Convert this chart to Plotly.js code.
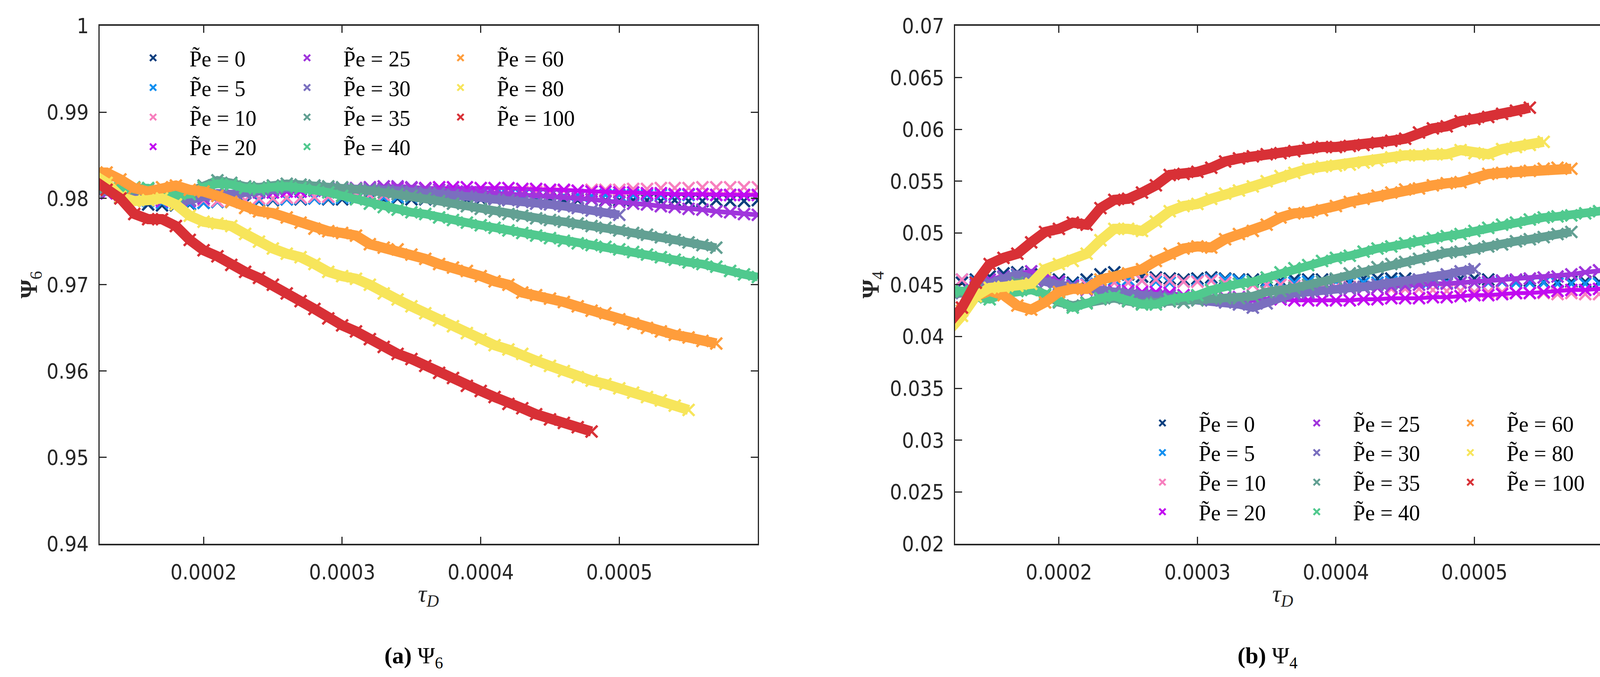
<!DOCTYPE html>
<html>
<head>
<meta charset="utf-8">
<script src="https://cdn.plot.ly/plotly-3.0.1.min.js"></script>
<style>
  html, body { margin: 0; padding: 0; background: #fff; overflow: hidden; }
  #chart { width: 4175px; height: 1733px; }
</style>
</head>
<body>
<div id="chart"></div>
<script>
// time axis shared by all runs (series stop at their own length)
const tau = [
  0.00012, 0.00013, 0.00014, 0.00015, 0.00016, 0.00017, 0.00018, 0.00019, 0.00020, 0.00021,
  0.00022, 0.00023, 0.00024, 0.00025, 0.00026, 0.00027, 0.00028, 0.00029, 0.00030, 0.00031,
  0.00032, 0.00033, 0.00034, 0.00035, 0.00036, 0.00037, 0.00038, 0.00039, 0.00040, 0.00041,
  0.00042, 0.00043, 0.00044, 0.00045, 0.00046, 0.00047, 0.00048, 0.00049, 0.00050, 0.00051,
  0.00052, 0.00053, 0.00054, 0.00055, 0.00056, 0.00057, 0.00058, 0.00059, 0.00060
];

const peValues = ['0', '5', '10', '20', '25', '30', '35', '40', '60', '80', '100'];

const tauTickVals = [0.0002, 0.0003, 0.0004, 0.0005];
const tauTickText = ['0.0002', '0.0003', '0.0004', '0.0005'];
const psi6TickVals = [0.94, 0.95, 0.96, 0.97, 0.98, 0.99, 1];
const psi6TickText = ['0.94', '0.95', '0.96', '0.97', '0.98', '0.99', '1'];
const psi4TickVals = [0.02, 0.025, 0.03, 0.035, 0.04, 0.045, 0.05, 0.055, 0.06, 0.065, 0.07];
const psi4TickText = ['0.02', '0.025', '0.03', '0.035', '0.04', '0.045', '0.05', '0.055', '0.06', '0.065', '0.07'];

// (a) Psi_6
const psi6Pe0 = [
  0.9810, 0.9806, 0.9801, 0.9797, 0.9793, 0.9792, 0.9792, 0.9793, 0.9795, 0.9796,
  0.9796, 0.9795, 0.9797, 0.9798, 0.9799, 0.9799, 0.9800, 0.9799, 0.9799, 0.9800,
  0.9799, 0.9799, 0.9800, 0.9799, 0.9799, 0.9800, 0.9799, 0.9799, 0.9799, 0.9800,
  0.9799, 0.9799, 0.9798, 0.9799, 0.9798, 0.9798, 0.9799, 0.9798, 0.9798, 0.9798,
  0.9798, 0.9797, 0.9798, 0.9797, 0.9797, 0.9798, 0.9797, 0.9797, 0.9798
];
const psi6Pe5 = [
  0.9812, 0.9808, 0.9804, 0.9800, 0.9797, 0.9795, 0.9794, 0.9794, 0.9795, 0.9796,
  0.9797, 0.9797, 0.9798, 0.9799, 0.9799, 0.9800, 0.9800, 0.9800, 0.9801, 0.9801,
  0.9801, 0.9801, 0.9802, 0.9802, 0.9802, 0.9802, 0.9802, 0.9802, 0.9803, 0.9803,
  0.9803, 0.9803, 0.9803, 0.9803, 0.9803, 0.9804, 0.9803, 0.9804, 0.9804, 0.9804,
  0.9804, 0.9804, 0.9804, 0.9804, 0.9805, 0.9804, 0.9804, 0.9804, 0.9804
];
const psi6Pe10 = [
  0.9814, 0.9812, 0.9808, 0.9803, 0.9800, 0.9798, 0.9797, 0.9797, 0.9798, 0.9797,
  0.9797, 0.9798, 0.9800, 0.9800, 0.9801, 0.9801, 0.9802, 0.9802, 0.9803, 0.9803,
  0.9804, 0.9804, 0.9805, 0.9805, 0.9805, 0.9806, 0.9806, 0.9806, 0.9807, 0.9807,
  0.9807, 0.9808, 0.9808, 0.9808, 0.9809, 0.9809, 0.9810, 0.9810, 0.9810, 0.9811,
  0.9811, 0.9812, 0.9812, 0.9812, 0.9813, 0.9813, 0.9813, 0.9813, 0.9813
];
const psi6Pe20 = [
  0.9808, 0.9806, 0.9803, 0.9800, 0.9798, 0.9797, 0.9796, 0.9797, 0.9800, 0.9803,
  0.9805, 0.9806, 0.9807, 0.9807, 0.9808, 0.9808, 0.9809, 0.9809, 0.9810, 0.9810,
  0.9811, 0.9811, 0.9812, 0.9812, 0.9812, 0.9813, 0.9813, 0.9813, 0.9812, 0.9812,
  0.9812, 0.9811, 0.9811, 0.9810, 0.9810, 0.9809, 0.9808, 0.9808, 0.9807, 0.9807,
  0.9806, 0.9806, 0.9805, 0.9805, 0.9805, 0.9804, 0.9804, 0.9804, 0.9804
];
const psi6Pe25 = [
  0.9810, 0.9808, 0.9805, 0.9802, 0.9800, 0.9798, 0.9797, 0.9798, 0.9800, 0.9803,
  0.9805, 0.9806, 0.9808, 0.9810, 0.9811, 0.9812, 0.9812, 0.9812, 0.9811, 0.9812,
  0.9813, 0.9814, 0.9814, 0.9813, 0.9811, 0.9810, 0.9809, 0.9808, 0.9807, 0.9806,
  0.9806, 0.9805, 0.9804, 0.9803, 0.9802, 0.9800, 0.9799, 0.9797, 0.9796, 0.9794,
  0.9793, 0.9791, 0.9790, 0.9788, 0.9787, 0.9785, 0.9784, 0.9782, 0.9781
];
const psi6Pe30 = [
  0.9810, 0.9808, 0.9805, 0.9803, 0.9802, 0.9800, 0.9797, 0.9798, 0.9803, 0.9806,
  0.9805, 0.9806, 0.9808, 0.9810, 0.9812, 0.9813, 0.9813, 0.9812, 0.9812, 0.9811,
  0.9811, 0.9810, 0.9809, 0.9808, 0.9807, 0.9806, 0.9804, 0.9802, 0.9801, 0.9799,
  0.9798, 0.9796, 0.9794, 0.9793, 0.9791, 0.9789, 0.9786, 0.9784, 0.9781
];
const psi6Pe35 = [
  0.9812, 0.9810, 0.9808, 0.9810, 0.9811, 0.9806, 0.9804, 0.9808, 0.9815, 0.9821,
  0.9818, 0.9814, 0.9813, 0.9815, 0.9817, 0.9816, 0.9815, 0.9814, 0.9813, 0.9811,
  0.9809, 0.9807, 0.9805, 0.9803, 0.9800, 0.9797, 0.9794, 0.9791, 0.9788, 0.9785,
  0.9782, 0.9780, 0.9777, 0.9775, 0.9773, 0.9771, 0.9768, 0.9766, 0.9763, 0.9760,
  0.9758, 0.9755, 0.9752, 0.9749, 0.9746, 0.9743
];
const psi6Pe40 = [
  0.9815, 0.9815, 0.9812, 0.9813, 0.9812, 0.9808, 0.9803, 0.9805, 0.9813, 0.9817,
  0.9816, 0.9812, 0.9811, 0.9813, 0.9814, 0.9812, 0.9810, 0.9807, 0.9803, 0.9799,
  0.9794, 0.9790, 0.9787, 0.9784, 0.9782, 0.9778, 0.9775, 0.9772, 0.9769, 0.9766,
  0.9763, 0.9760, 0.9757, 0.9754, 0.9751, 0.9748, 0.9746, 0.9744, 0.9741, 0.9738,
  0.9735, 0.9732, 0.9729, 0.9726, 0.9724, 0.9721, 0.9716, 0.9712, 0.9709
];
const psi6Pe60 = [
  0.9830, 0.9830, 0.9822, 0.9812, 0.9808, 0.9813, 0.9815, 0.9810, 0.9808, 0.9803,
  0.9796, 0.9789, 0.9785, 0.9783, 0.9778, 0.9772, 0.9765, 0.9762, 0.9760, 0.9757,
  0.9747, 0.9743, 0.9741, 0.9735, 0.9730, 0.9724, 0.9720, 0.9716, 0.9710, 0.9704,
  0.9700, 0.9691, 0.9688, 0.9684, 0.9680, 0.9675, 0.9670, 0.9667, 0.9660, 0.9655,
  0.9650, 0.9646, 0.9642, 0.9639, 0.9635, 0.9632
];
const psi6Pe80 = [
  0.9828, 0.9818, 0.9802, 0.9797, 0.9798, 0.9800, 0.9793, 0.9780, 0.9773, 0.9771,
  0.9768, 0.9759, 0.9750, 0.9742, 0.9736, 0.9732, 0.9724, 0.9715, 0.9710, 0.9707,
  0.9700, 0.9690, 0.9683, 0.9675, 0.9667, 0.9659, 0.9652, 0.9644, 0.9637, 0.9630,
  0.9625, 0.9620, 0.9612, 0.9606, 0.9600, 0.9593, 0.9589, 0.9585, 0.9580, 0.9575,
  0.9570, 0.9566, 0.9560, 0.9555
];
const psi6Pe100 = [
  0.9822, 0.9810, 0.9800, 0.9782, 0.9776, 0.9776, 0.9768, 0.9752, 0.9740, 0.9733,
  0.9723, 0.9715, 0.9708, 0.9700, 0.9690, 0.9681, 0.9672, 0.9661, 0.9653, 0.9646,
  0.9637, 0.9628, 0.9620, 0.9614, 0.9606, 0.9598, 0.9592, 0.9583, 0.9577, 0.9570,
  0.9562, 0.9557, 0.9550, 0.9544, 0.9540, 0.9535, 0.9530
];

// (b) Psi_4
const psi4Pe0 = [
  0.0448, 0.0452, 0.0455, 0.0458, 0.0461, 0.0462, 0.0460, 0.0457, 0.0455, 0.0452,
  0.0455, 0.0460, 0.0462, 0.0460, 0.0458, 0.0457, 0.0456, 0.0455, 0.0456, 0.0457,
  0.0456, 0.0455, 0.0455, 0.0454, 0.0454, 0.0455, 0.0455, 0.0455, 0.0455, 0.0456,
  0.0456, 0.0456, 0.0456, 0.0456, 0.0455, 0.0455, 0.0456, 0.0456, 0.0456, 0.0455,
  0.0454, 0.0454, 0.0454, 0.0453, 0.0453, 0.0453, 0.0453, 0.0453, 0.0453
];
const psi4Pe5 = [
  0.0450, 0.0455, 0.0453, 0.0455, 0.0458, 0.0459, 0.0457, 0.0455, 0.0452, 0.0450,
  0.0451, 0.0453, 0.0455, 0.0455, 0.0454, 0.0453, 0.0452, 0.0453, 0.0454, 0.0455,
  0.0455, 0.0454, 0.0453, 0.0453, 0.0452, 0.0452, 0.0453, 0.0453, 0.0453, 0.0453,
  0.0452, 0.0452, 0.0453, 0.0453, 0.0453, 0.0453, 0.0452, 0.0452, 0.0452, 0.0452,
  0.0453, 0.0452, 0.0452, 0.0452, 0.0451, 0.0451, 0.0451, 0.0451, 0.0451
];
const psi4Pe10 = [
  0.0450, 0.0455, 0.0452, 0.0455, 0.0454, 0.0452, 0.0455, 0.0452, 0.0450, 0.0449,
  0.0450, 0.0451, 0.0452, 0.0452, 0.0454, 0.0455, 0.0454, 0.0453, 0.0453, 0.0454,
  0.0452, 0.0451, 0.0450, 0.0450, 0.0450, 0.0449, 0.0449, 0.0448, 0.0448, 0.0448,
  0.0447, 0.0447, 0.0446, 0.0446, 0.0446, 0.0445, 0.0444, 0.0444, 0.0443, 0.0443,
  0.0443, 0.0442, 0.0442, 0.0442, 0.0441, 0.0442, 0.0441, 0.0441, 0.0441
];
const psi4Pe20 = [
  0.0440, 0.0444, 0.0448, 0.0452, 0.0457, 0.0460, 0.0458, 0.0455, 0.0453, 0.0449,
  0.0446, 0.0445, 0.0444, 0.0444, 0.0443, 0.0443, 0.0442, 0.0440, 0.0439, 0.0438,
  0.0438, 0.0438, 0.0437, 0.0436, 0.0436, 0.0435, 0.0435, 0.0435, 0.0435, 0.0435,
  0.0436, 0.0436, 0.0437, 0.0437, 0.0437, 0.0438, 0.0438, 0.0439, 0.0440, 0.0440,
  0.0441, 0.0442, 0.0442, 0.0443, 0.0444, 0.0445, 0.0445, 0.0446, 0.0446
];
const psi4Pe25 = [
  0.0440, 0.0445, 0.0450, 0.0455, 0.0458, 0.0460, 0.0463, 0.0458, 0.0453, 0.0448,
  0.0445, 0.0443, 0.0442, 0.0442, 0.0441, 0.0440, 0.0440, 0.0438, 0.0437, 0.0437,
  0.0436, 0.0436, 0.0435, 0.0436, 0.0438, 0.0440, 0.0442, 0.0444, 0.0446, 0.0446,
  0.0447, 0.0447, 0.0448, 0.0449, 0.0450, 0.0451, 0.0451, 0.0452, 0.0452, 0.0453,
  0.0454, 0.0455, 0.0456, 0.0457, 0.0458, 0.0460, 0.0462, 0.0464, 0.0465
];
const psi4Pe30 = [
  0.0440, 0.0442, 0.0447, 0.0452, 0.0457, 0.0460, 0.0456, 0.0452, 0.0450, 0.0448,
  0.0446, 0.0445, 0.0443, 0.0442, 0.0440, 0.0439, 0.0438, 0.0437, 0.0436, 0.0435,
  0.0433, 0.0431, 0.0428, 0.0432, 0.0438, 0.0442, 0.0443, 0.0445, 0.0446, 0.0447,
  0.0448, 0.0450, 0.0451, 0.0452, 0.0455, 0.0457, 0.0460, 0.0463, 0.0465
];
const psi4Pe35 = [
  0.0440, 0.0443, 0.0445, 0.0443, 0.0447, 0.0452, 0.0448, 0.0440, 0.0433, 0.0430,
  0.0433, 0.0436, 0.0437, 0.0434, 0.0432, 0.0433, 0.0434, 0.0433, 0.0435, 0.0437,
  0.0437, 0.0437, 0.0439, 0.0443, 0.0444, 0.0447, 0.0450, 0.0453, 0.0456, 0.0461,
  0.0463, 0.0467, 0.0470, 0.0472, 0.0475, 0.0478, 0.0481, 0.0482, 0.0485, 0.0487,
  0.0489, 0.0492, 0.0494, 0.0496, 0.0499, 0.0501
];
const psi4Pe40 = [
  0.0445, 0.0444, 0.0438, 0.0436, 0.0441, 0.0444, 0.0445, 0.0441, 0.0434, 0.0428,
  0.0432, 0.0437, 0.0439, 0.0435, 0.0431, 0.0431, 0.0436, 0.0438, 0.0440, 0.0445,
  0.0449, 0.0451, 0.0453, 0.0457, 0.0462, 0.0466, 0.0469, 0.0473, 0.0476, 0.0478,
  0.0482, 0.0485, 0.0487, 0.0490, 0.0492, 0.0495, 0.0497, 0.0499, 0.0502, 0.0505,
  0.0508, 0.0510, 0.0513, 0.0515, 0.0516, 0.0517, 0.0519, 0.0521, 0.0524
];
const psi4Pe60 = [
  0.0420, 0.0425, 0.0439, 0.0444, 0.0440, 0.0430, 0.0426, 0.0433, 0.0443, 0.0446,
  0.0446, 0.0455, 0.0458, 0.0461, 0.0465, 0.0473, 0.0480, 0.0485, 0.0487, 0.0486,
  0.0494, 0.0499, 0.0502, 0.0508, 0.0515, 0.0519, 0.0520, 0.0522, 0.0526, 0.0530,
  0.0533, 0.0536, 0.0539, 0.0542, 0.0543, 0.0546, 0.0548, 0.0549, 0.0553, 0.0557,
  0.0558, 0.0559, 0.0560, 0.0562, 0.0563, 0.0562
];
const psi4Pe80 = [
  0.0405, 0.0420, 0.0439, 0.0447, 0.0448, 0.0449, 0.0451, 0.0465, 0.0470, 0.0473,
  0.0480, 0.0493, 0.0504, 0.0504, 0.0502, 0.0511, 0.0521, 0.0526, 0.0528, 0.0533,
  0.0538, 0.0541, 0.0545, 0.0550, 0.0555, 0.0558, 0.0562, 0.0564, 0.0565, 0.0566,
  0.0568, 0.0570, 0.0573, 0.0575, 0.0575, 0.0576, 0.0576, 0.0580, 0.0577, 0.0576,
  0.0581, 0.0583, 0.0585, 0.0588
];
const psi4Pe100 = [
  0.0412, 0.0428, 0.0452, 0.0470, 0.0476, 0.0480, 0.0491, 0.0501, 0.0504, 0.0510,
  0.0508, 0.0524, 0.0532, 0.0533, 0.0539, 0.0546, 0.0556, 0.0557, 0.0559, 0.0563,
  0.0569, 0.0572, 0.0574, 0.0576, 0.0577, 0.0579, 0.0582, 0.0583, 0.0583, 0.0584,
  0.0585, 0.0587, 0.0589, 0.0591, 0.0597, 0.0601, 0.0603, 0.0608, 0.0610, 0.0612,
  0.0615, 0.0618, 0.0621
];

const psi6Series = [psi6Pe0, psi6Pe5, psi6Pe10, psi6Pe20, psi6Pe25, psi6Pe30, psi6Pe35, psi6Pe40, psi6Pe60, psi6Pe80, psi6Pe100];
const psi4Series = [psi4Pe0, psi4Pe5, psi4Pe10, psi4Pe20, psi4Pe25, psi4Pe30, psi4Pe35, psi4Pe40, psi4Pe60, psi4Pe80, psi4Pe100];

const colors = [
  '#0d3f7f', // Pe 0
  '#118ff0', // Pe 5
  '#f77fbe', // Pe 10
  '#c10af0', // Pe 20
  '#a035dc', // Pe 25
  '#7a6fbf', // Pe 30
  '#62a093', // Pe 35
  '#50c98e', // Pe 40
  '#ff9d3b', // Pe 60
  '#f7e55b', // Pe 80
  '#d83036'  // Pe 100
];
// the dense runs look like a solid band of crosses
const bandWidth = [0, 0, 0, 10, 12, 22, 22, 22, 26, 26, 26];

const traces = [];

function addPanel( series, xa, ya, legends ) {

    series.forEach( ( ys, i ) => {

        const x = tau.slice( 0, ys.length );
        const col = colors[ i ];

        if ( bandWidth[ i ] > 0 ) {
            traces.push( {
                type: 'scatter', mode: 'lines', x: x, y: ys, xaxis: xa, yaxis: ya,
                line: { color: col, width: bandWidth[ i ] },
                showlegend: false, hoverinfo: 'skip'
            } );
        }

        traces.push( {
            type: 'scatter', mode: 'markers', x: x, y: ys, xaxis: xa, yaxis: ya,
            name: 'P\u0303e = ' + peValues[ i ],
            legend: legends[ i < 4 ? 0 : ( i < 8 ? 1 : 2 ) ],
            marker: { symbol: 'x-thin', size: 30, color: col, line: { width: 6, color: col } }
        } );

    } );

}

addPanel( psi6Series, 'x', 'y', [ 'legend', 'legend2', 'legend3' ] );
addPanel( psi4Series, 'x2', 'y2', [ 'legend4', 'legend5', 'legend6' ] );

const axisColor = '#262626';
const tickFamily = 'Liberation Sans Narrow, DejaVu Sans Condensed, Liberation Sans, sans-serif';

function xAxis( domain, anchor ) {
    return {
        domain: domain, anchor: anchor,
        range: [ 0.000125, 0.0006 ],
        tickvals: tauTickVals, ticktext: tauTickText,
        ticks: 'inside', ticklen: 18, tickwidth: 3, tickcolor: axisColor,
        showline: true, linewidth: 4, linecolor: axisColor, mirror: 'ticks',
        showgrid: false, zeroline: false,
        ticklabelstandoff: 22,
        tickfont: { family: tickFamily, size: 54, color: axisColor }
    };
}

function yAxis( range, vals, text, anchor ) {
    return {
        domain: [ 0.1968, 0.9619 ], anchor: anchor,
        range: range,
        tickvals: vals, ticktext: text,
        ticks: 'inside', ticklen: 18, tickwidth: 3, tickcolor: axisColor,
        showline: true, linewidth: 3, linecolor: axisColor, mirror: 'ticks',
        showgrid: false, zeroline: false,
        ticklabelstandoff: 14,
        tickfont: { family: tickFamily, size: 54, color: axisColor }
    };
}

function legendBox( x, y ) {
    return {
        x: x, y: y, xanchor: 'left', yanchor: 'top',
        orientation: 'v',
        bgcolor: 'rgba(0,0,0,0)', borderwidth: 0,
        itemwidth: 176,
        tracegroupgap: 0,
        font: { family: 'Liberation Serif, DejaVu Serif, serif', size: 56, color: '#000' }
    };
}

const serif = 'Liberation Serif, DejaVu Serif, serif';

const layout = {
    width: 4175,
    height: 1733,
    autosize: false,
    margin: { l: 0, r: 0, t: 0, b: 0 },
    paper_bgcolor: '#fff',
    plot_bgcolor: '#fff',
    xaxis: xAxis( [ 0.0611, 0.4647 ], 'y' ),
    yaxis: yAxis( [ 0.94, 1 ], psi6TickVals, psi6TickText, 'x' ),
    xaxis2: xAxis( [ 0.5856, 0.9890 ], 'y2' ),
    yaxis2: yAxis( [ 0.02, 0.07 ], psi4TickVals, psi4TickText, 'x2' ),
    legend: legendBox( 0.0716, 0.9393 ),
    legend2: legendBox( 0.1660, 0.9393 ),
    legend3: legendBox( 0.2601, 0.9393 ),
    legend4: legendBox( 0.6905, 0.400 ),
    legend5: legendBox( 0.7851, 0.400 ),
    legend6: legendBox( 0.8793, 0.400 ),
    showlegend: true,
    annotations: [
        { text: '<b>Ψ</b><sub>6</sub>', x: 0.0184, y: 0.5793, textangle: -90 },
        { text: '<b>Ψ</b><sub>4</sub>', x: 0.5346, y: 0.5793, textangle: -90 },
        { text: '<i>τ</i><sub><i>D</i></sub>', x: 0.2628, y: 0.121 },
        { text: '<i>τ</i><sub><i>D</i></sub>', x: 0.7866, y: 0.121 },
        { text: '<b>(a)</b> Ψ<sub>6</sub>', x: 0.2537, y: 0.0289, font: { family: serif, size: 60, color: '#000' } },
        { text: '<b>(b)</b> Ψ<sub>4</sub>', x: 0.7772, y: 0.0289, font: { family: serif, size: 60, color: '#000' } }
    ].map( a => Object.assign( {
        xref: 'paper', yref: 'paper', showarrow: false,
        xanchor: 'center', yanchor: 'middle',
        font: { family: serif, size: 62, color: axisColor }
    }, a ) )
};

Plotly.newPlot( 'chart', traces, layout, { displayModeBar: false, staticPlot: true } );
</script>
</body>
</html>
